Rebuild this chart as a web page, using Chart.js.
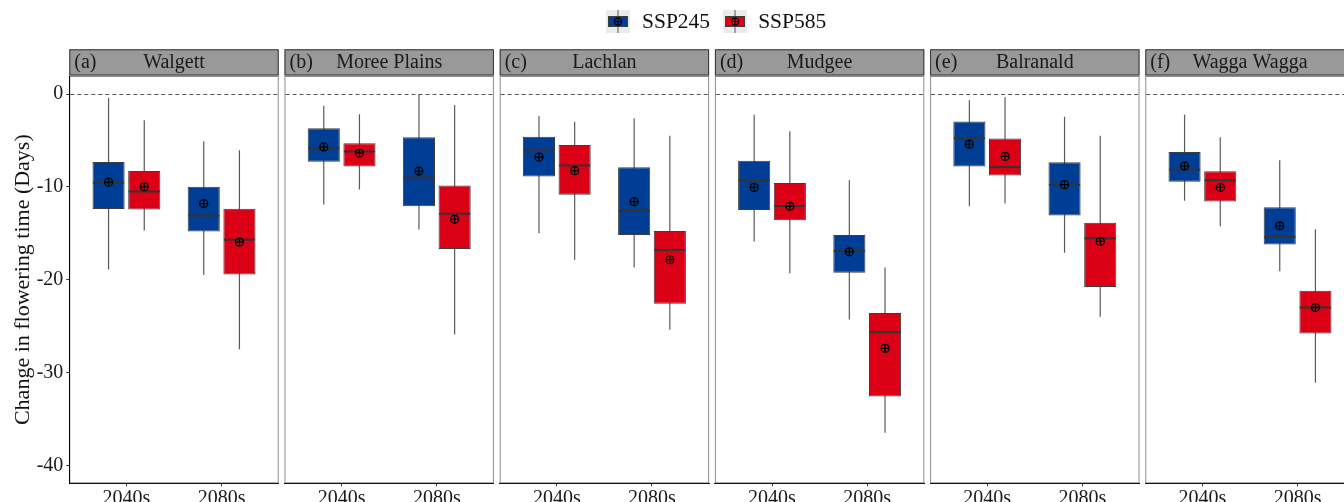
<!DOCTYPE html>
<html>
<head>
<meta charset="utf-8">
<script src="https://cdn.jsdelivr.net/npm/chart.js@4.4.1/dist/chart.umd.min.js"></script>
<style>
  body { margin: 0; background: #fff; }
  #wrap { position: relative; width: 1344px; height: 502px; overflow: hidden; }
  #wrap canvas.panel { position: absolute; left: 0; top: 0; }
  #legend { position: absolute; top: 10px; left: 606px; height: 23px; display: flex; align-items: center;
            font-family: 'Liberation Serif', 'Times New Roman', serif; font-size: 21.5px; color: #111; }
  #legend canvas { display: block; }
  #legend span { line-height: 23px; }
</style>
</head>
<body>
<div id="wrap">
  <div id="legend">
    <canvas id="key245" width="24" height="23"></canvas><span style="margin:0 13px 0 12px">SSP245</span>
    <canvas id="key585" width="24" height="23"></canvas><span style="margin-left:11px">SSP585</span>
  </div>
</div>
<script>
// sites (facets) and periods
const sites = ['Walgett', 'Moree Plains', 'Lachlan', 'Mudgee', 'Balranald', 'Wagga Wagga'];
const tags = ['(a)', '(b)', '(c)', '(d)', '(e)', '(f)'];
const periods = ['2040s', '2080s'];
const yTicks = [-40, -30, -20, -10, 0];

// SSP245 box statistics, per site: [2040s, 2080s]
const lo245   = [[-18.9, -19.5], [-11.9, -14.6], [-15.0, -18.7], [-15.9, -24.3], [-12.1, -17.1], [-11.5, -19.1]];
const q1_245  = [[-12.4, -14.8], [-7.3, -12.1], [-8.9, -15.2], [-12.5, -19.25], [-7.8, -13.1], [-9.45, -16.2]];
const med245  = [[-9.55, -13.1], [-5.85, -9.0], [-6.0, -12.6], [-9.3, -16.9], [-4.75, -9.8], [-8.15, -15.4]];
const q3_245  = [[-7.33, -10.0], [-3.7, -4.67], [-4.6, -7.9], [-7.2, -15.2], [-2.95, -7.36], [-6.25, -12.2]];
const hi245   = [[-0.4, -5.1], [-1.26, -0.04], [-2.37, -2.6], [-2.23, -9.3], [-0.68, -2.44], [-2.23, -7.15]];
const mean245 = [[-9.5, -11.8], [-5.7, -8.3], [-6.8, -11.6], [-10.06, -17.0], [-5.4, -9.77], [-7.76, -14.2]];

// SSP585 box statistics, per site: [2040s, 2080s]
const lo585   = [[-14.7, -27.5], [-10.3, -25.9], [-17.85, -25.4], [-19.3, -36.5], [-11.8, -24.0], [-14.26, -31.1]];
const q1_585  = [[-12.45, -19.45], [-7.8, -16.7], [-10.85, -22.6], [-13.6, -32.6], [-8.77, -20.8], [-11.57, -25.8]];
const med585  = [[-10.5, -15.7], [-6.2, -12.9], [-7.7, -16.8], [-12.07, -25.65], [-7.87, -15.55], [-9.3, -23.0]];
const q3_585  = [[-8.3, -12.35], [-5.3, -9.85], [-5.5, -14.76], [-9.6, -23.6], [-4.8, -13.86], [-8.33, -21.2]];
const hi585   = [[-2.84, -6.07], [-2.19, -1.19], [-2.98, -4.5], [-4.0, -18.7], [-0.36, -4.5], [-4.67, -14.58]];
const mean585 = [[-10.0, -15.95], [-6.36, -13.5], [-8.26, -17.85], [-12.1, -27.4], [-6.72, -15.88], [-10.06, -23.0]];

const BLUE = '#003d95';
const RED = '#dc0016';
const SERIF = "'Liberation Serif', 'Times New Roman', serif";

// page geometry
const CW = 1360, CH = 502;
const PLOT_TOP = 76, PLOT_BOTTOM = 483.3, STRIP_TOP = 49.3;
const FIRST_LEFT = 69.3, PANEL_W = 209.4, PANEL_STEP = 215.2;
const Y_MIN = -41.94, Y_MAX = 1.94;

// strip, frame, zero line, medians and means
const facetDecor = {
  id: 'facetDecor',
  beforeDraw(chart, args, opts) {
    const { ctx, chartArea: a } = chart;
    ctx.save();
    ctx.fillStyle = '#999999';
    ctx.fillRect(a.left, STRIP_TOP, a.right - a.left, a.top - STRIP_TOP - 0.5);
    ctx.strokeStyle = '#333';
    ctx.lineWidth = 1;
    ctx.strokeRect(a.left + 0.5, STRIP_TOP + 0.5, a.right - a.left - 1, a.top - STRIP_TOP - 1.5);
    ctx.fillStyle = '#1a1a1a';
    ctx.font = '20px ' + SERIF;
    ctx.textBaseline = 'middle';
    ctx.textAlign = 'left';
    ctx.fillText(opts.tag, a.left + 5, (STRIP_TOP + a.top) / 2 + 0.5);
    ctx.textAlign = 'center';
    ctx.fillText(opts.name, (a.left + a.right) / 2, (STRIP_TOP + a.top) / 2 + 0.5);
    ctx.strokeStyle = '#8c8c8c';
    ctx.strokeRect(a.left + 0.5, a.top + 0.5, a.right - a.left - 1, a.bottom - a.top - 1);
    ctx.restore();
  },
  beforeDatasetsDraw(chart) {
    const { ctx, chartArea: a, scales } = chart;
    const y0 = Math.round(scales.y.getPixelForValue(0)) + 0.5;
    ctx.save();
    ctx.strokeStyle = '#555';
    ctx.lineWidth = 1;
    ctx.setLineDash([4, 3]);
    ctx.beginPath();
    ctx.moveTo(a.left + 1, y0);
    ctx.lineTo(a.right - 1, y0);
    ctx.stroke();
    ctx.restore();
  },
  afterDatasetsDraw(chart) {
    const { ctx, scales } = chart;
    ctx.save();
    chart.data.datasets.forEach((ds, i) => {
      if (!ds.medians) return;
      chart.getDatasetMeta(i).data.forEach((bar, j) => {
        const half = bar.width / 2;
        const ym = scales.y.getPixelForValue(ds.medians[j]);
        ctx.strokeStyle = '#333';
        ctx.lineWidth = 2;
        ctx.beginPath();
        ctx.moveTo(bar.x - half + 0.5, ym);
        ctx.lineTo(bar.x + half - 0.5, ym);
        ctx.stroke();
        const yMean = scales.y.getPixelForValue(ds.means[j]);
        const r = 4;
        ctx.strokeStyle = '#000';
        ctx.lineWidth = 1.3;
        ctx.beginPath();
        ctx.arc(bar.x, yMean, r, 0, Math.PI * 2);
        ctx.moveTo(bar.x - r, yMean);
        ctx.lineTo(bar.x + r, yMean);
        ctx.moveTo(bar.x, yMean - r);
        ctx.lineTo(bar.x, yMean + r);
        ctx.stroke();
      });
    });
    ctx.restore();
  }
};

function spans(lo, hi, s) {
  return periods.map((p, j) => ({ x: j + 1, y: [lo[s][j], hi[s][j]] }));
}

const wrap = document.getElementById('wrap');

sites.forEach((name, s) => {
  const cv = document.createElement('canvas');
  cv.className = 'panel';
  cv.width = CW;
  cv.height = CH;
  wrap.insertBefore(cv, document.getElementById('legend'));

  const left = FIRST_LEFT + s * PANEL_STEP;
  const first = s === 0;

  new Chart(cv, {
    type: 'bar',
    data: {
      datasets: [
        { label: 'SSP245', stack: 'ssp245', data: spans(q1_245, q3_245, s),
          medians: med245[s], means: mean245[s],
          backgroundColor: BLUE, borderColor: '#3d3d3d', borderWidth: 1, borderSkipped: false },
        { label: 'SSP585', stack: 'ssp585', data: spans(q1_585, q3_585, s),
          medians: med585[s], means: mean585[s],
          backgroundColor: RED, borderColor: '#3d3d3d', borderWidth: 1, borderSkipped: false },
        { label: 'SSP245 range', stack: 'ssp245', data: spans(lo245, hi245, s),
          backgroundColor: '#595959', borderWidth: 0, maxBarThickness: 1.2 },
        { label: 'SSP585 range', stack: 'ssp585', data: spans(lo585, hi585, s),
          backgroundColor: '#595959', borderWidth: 0, maxBarThickness: 1.2 }
      ]
    },
    options: {
      responsive: false,
      animation: false,
      events: [],
      categoryPercentage: 0.75,
      barPercentage: 0.9,
      layout: {
        padding: { top: PLOT_TOP, bottom: 0, left: first ? 0 : left, right: CW - left - PANEL_W }
      },
      plugins: {
        legend: { display: false },
        tooltip: { enabled: false },
        facetDecor: { tag: tags[s], name: name }
      },
      scales: {
        x: {
          type: 'linear',
          offset: false,
          min: 0.4,
          max: 2.6,
          afterBuildTicks: sc => { sc.ticks = periods.map((p, j) => ({ value: j + 1 })); },
          afterFit: sc => { sc.height = CH - PLOT_BOTTOM; },
          ticks: { callback: (v, j) => periods[j], padding: 0, maxRotation: 0, autoSkip: false,
                   color: '#1a1a1a', font: { family: SERIF, size: 20 } },
          grid: { offset: false, drawOnChartArea: false, drawTicks: true, tickLength: 3, color: '#333' },
          border: { display: true, color: '#111', width: 1 }
        },
        y: {
          display: first,
          stacked: false,
          min: Y_MIN,
          max: Y_MAX,
          afterBuildTicks: sc => { sc.ticks = yTicks.map(v => ({ value: v })); },
          afterFit: sc => { if (first) sc.width = FIRST_LEFT; },
          ticks: { padding: 3, color: '#1a1a1a', font: { family: SERIF, size: 20 } },
          grid: { drawOnChartArea: false, drawTicks: true, tickLength: 3, color: '#333' },
          border: { display: true, color: '#000', width: 1 },
          title: { display: true, text: 'Change in flowering time (Days)', color: '#111',
                   font: { family: SERIF, size: 22 }, padding: { top: 10, bottom: 0 } }
        }
      }
    },
    plugins: [facetDecor]
  });
});

// legend keys
function drawKey(id, fill) {
  const c = document.getElementById(id).getContext('2d');
  c.fillStyle = '#ebebeb';
  c.fillRect(0, 0, 24, 23);
  c.strokeStyle = '#595959';
  c.lineWidth = 1;
  c.beginPath();
  c.moveTo(12, 0);
  c.lineTo(12, 23);
  c.stroke();
  c.fillStyle = fill;
  c.fillRect(2.5, 6.5, 19, 10);
  c.strokeStyle = '#3d3d3d';
  c.strokeRect(2.5, 6.5, 19, 10);
  c.strokeStyle = '#000';
  c.lineWidth = 1.2;
  c.beginPath();
  c.arc(12, 11.5, 3.6, 0, Math.PI * 2);
  c.moveTo(8.4, 11.5); c.lineTo(15.6, 11.5);
  c.moveTo(12, 7.9); c.lineTo(12, 15.1);
  c.stroke();
}
drawKey('key245', BLUE);
drawKey('key585', RED);
</script>
</body>
</html>
